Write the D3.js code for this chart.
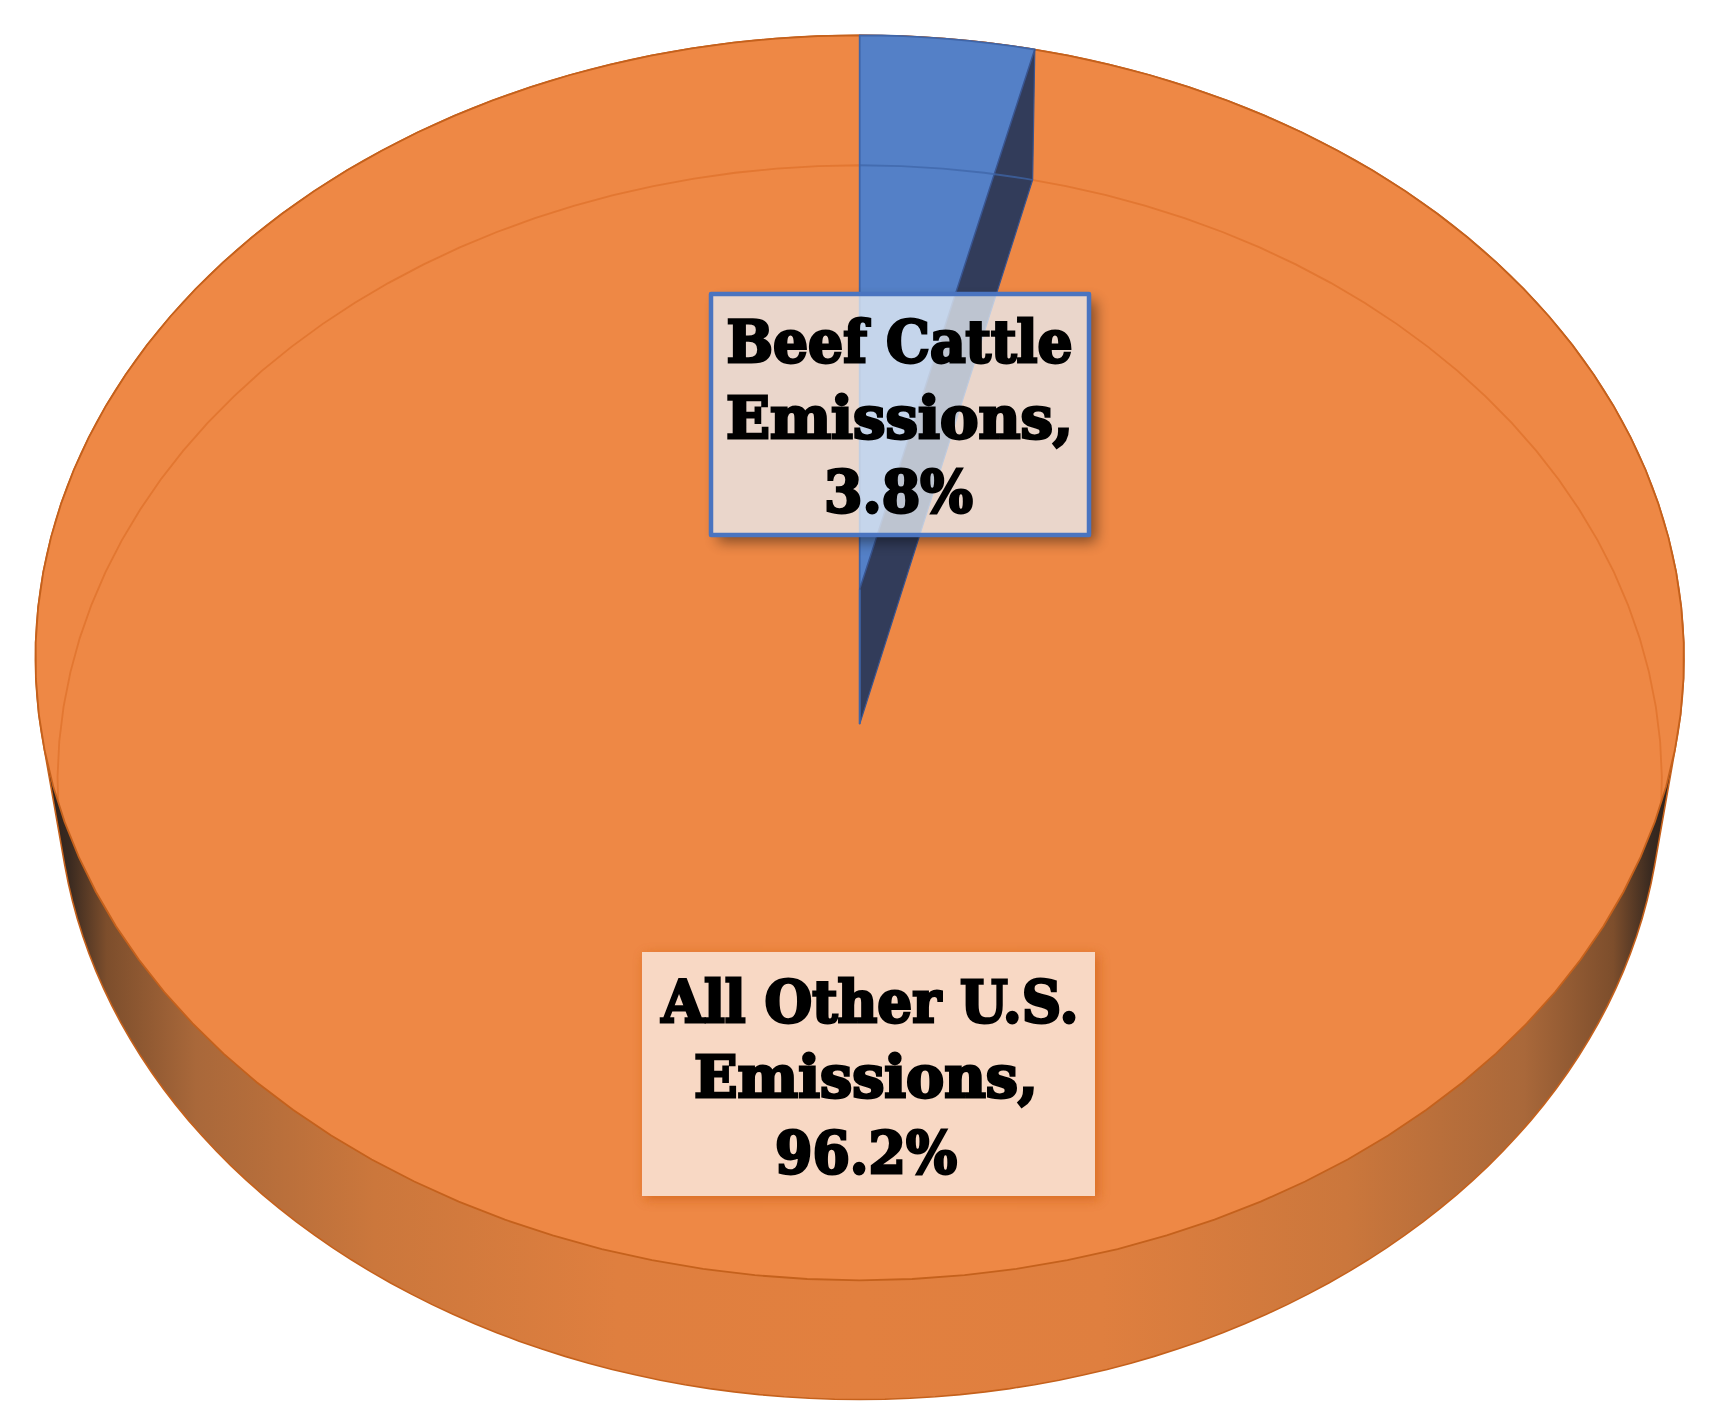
<!DOCTYPE html>
<html><head><meta charset="utf-8">
<script src="https://d3js.org/d3.v7.min.js"></script>
<style>html,body{margin:0;padding:0;background:#fff}svg{display:block}</style>
</head><body>
<svg id="c" width="1727" height="1416"></svg>
<script>
const categories = ["Beef Cattle Emissions", "All Other U.S. Emissions"];
const values = [3.8, 96.2];
const labelLines = [["Beef Cattle", "Emissions,", "3.8%"], ["All Other U.S.", "Emissions,", "96.2%"]];

const W = 1727, H = 1416;
const svg = d3.select("#c");
const defs = svg.append("defs");
const arcs = d3.pie().sort(null).value(d => d)(values);

// perspective projection of the pie's top and bottom rims
const topRim = {cx: 859.7, cy: 589.5, a: 819.3, b: 615, k: -0.1097};
const botRim = {cx: 859.7, cy: 724, a: 798.6, b: 611.6, k: -0.0946};
const proj = (rim, t) => {
  const X = Math.sin(t), Y = -Math.cos(t), d = 1 + rim.k * Y;
  return [rim.cx + rim.a * X / d, rim.cy + rim.b * Y / d];
};
const rimPts = (rim, a0, a1, n) => d3.range(n + 1).map(i => proj(rim, a0 + (a1 - a0) * i / n));
const line = d3.line();
const TAU = Math.PI * 2;
const disk = rim => line(rimPts(rim, 0, TAU, 110)) + "Z";
const hull = d3.polygonHull([...rimPts(topRim, 0, TAU, 220), ...rimPts(botRim, 0, TAU, 220)]);

const grad = defs.append("linearGradient").attr("id", "wall").attr("gradientUnits", "userSpaceOnUse")
  .attr("x1", 50).attr("x2", 1670).attr("y1", 0).attr("y2", 0);
[[0, "#2c211b"], [.012, "#3a2a20"], [.035, "#7d4e2c"], [.09, "#a9683a"], [.2, "#cb773c"], [.35, "#df7f3f"], [.5, "#e2803f"],
 [.65, "#df7f3f"], [.8, "#cb773c"], [.91, "#a9683a"], [.965, "#7d4e2c"], [.988, "#3a2a20"], [1, "#2c211b"]]
  .forEach(([o, c]) => grad.append("stop").attr("offset", o).attr("stop-color", c));

// lower body
svg.append("path").attr("d", line(hull) + "Z").attr("fill", "url(#wall)").attr("stroke", "#c5611c").attr("stroke-width", 1.6);

// top face
defs.append("clipPath").attr("id", "topClip").append("path").attr("d", disk(topRim));
svg.append("path").attr("d", disk(topRim)).attr("fill", "#ee8845").attr("stroke", "#c5611c").attr("stroke-width", 1.8);

// far rim of the lower body seen through the top face
svg.append("g").attr("clip-path", "url(#topClip)").append("path").attr("d", disk(botRim))
  .attr("fill", "none").attr("stroke", "#d8651e").attr("stroke-opacity", .5).attr("stroke-width", 1.8);

// beef wedge
const w = arcs[0];
const apexT = [topRim.cx, topRim.cy], apexB = [botRim.cx, botRim.cy];
const wedgeFace = line([apexT, ...rimPts(topRim, w.startAngle, w.endAngle, 8)]) + "Z";
const wedgeWall = line([apexT, proj(topRim, w.endAngle), proj(botRim, w.endAngle), apexB]) + "Z";
const wedgeEdge = line([apexT, apexB]);
svg.append("path").attr("d", wedgeFace).attr("fill", "#5480c7").attr("stroke", "#3f65a8").attr("stroke-width", 1.8).attr("stroke-linejoin", "round");
svg.append("path").attr("d", wedgeWall).attr("fill", "#323c5a").attr("stroke", "#3a5590").attr("stroke-width", 1.2).attr("stroke-linejoin", "round");
svg.append("path").attr("d", wedgeEdge).attr("stroke", "#3f65a8").attr("stroke-width", 2).attr("fill", "none");
defs.append("clipPath").attr("id", "wedgeClip").append("path").attr("d", wedgeFace + wedgeWall);
svg.append("g").attr("clip-path", "url(#wedgeClip)").append("path").attr("d", disk(botRim))
  .attr("fill", "none").attr("stroke", "#3f65a8").attr("stroke-opacity", .75).attr("stroke-width", 1.8);

// labels
const boxes = [
  {x: 711, y: 294, w: 378, h: 241, cx: [899.5, 899.5, 898.5], base: [361.5, 437.5, 511.5], len: [346, 347, 149],
   fill: "#e8eff6", op: .76, stroke: "#4a74c0", sw: 4.5, sh: "#000", so: .45, d: 7, blur: 7},
  {x: 642, y: 952, w: 453, h: 244, cx: [870, 866, 866], base: [1021.5, 1096.5, 1172.5], len: [417, 344, 182],
   fill: "#faece4", op: .8, stroke: "none", sw: 0, sh: "#cf6015", so: .75, d: 3, blur: 6}
];
boxes.forEach((b, i) => {
  const id = "out" + i;
  defs.append("filter").attr("id", "blur" + i).attr("x", "-15%").attr("y", "-15%").attr("width", "130%").attr("height", "130%")
    .append("feGaussianBlur").attr("stdDeviation", b.blur);
  defs.append("clipPath").attr("id", id).append("path").attr("clip-rule", "evenodd")
    .attr("d", `M0 0H${W}V${H}H0Z M${b.x} ${b.y}h${b.w}v${b.h}h${-b.w}Z`);
  svg.append("g").attr("clip-path", `url(#${id})`).append("rect")
    .attr("x", b.x + b.d).attr("y", b.y + b.d).attr("width", b.w).attr("height", b.h)
    .attr("fill", b.sh).attr("opacity", b.so).attr("filter", `url(#blur${i})`);
  svg.append("rect").attr("x", b.x).attr("y", b.y).attr("width", b.w).attr("height", b.h)
    .attr("fill", b.fill).attr("fill-opacity", b.op).attr("stroke", b.stroke).attr("stroke-width", b.sw).attr("stroke-linejoin", "round");
  labelLines[i].forEach((t, j) => {
    svg.append("text").text(t).attr("x", b.cx[j]).attr("y", b.base[j]).attr("text-anchor", "middle")
      .attr("font-family", "'DejaVu Serif'").attr("font-weight", 700).attr("font-size", 57)
      .attr("textLength", b.len[j]).attr("lengthAdjust", "spacingAndGlyphs")
      .attr("fill", "#000").attr("stroke", "#000").attr("stroke-width", 2.8).attr("stroke-linejoin", "miter");
  });
});
</script>
</body></html>
